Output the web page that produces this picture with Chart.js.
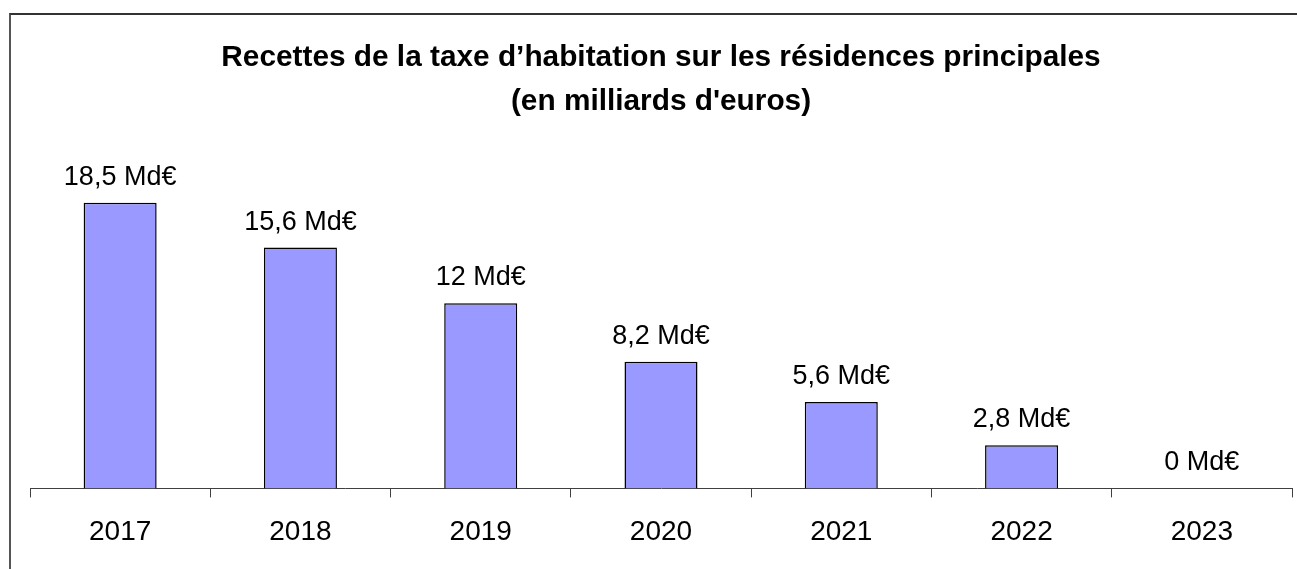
<!DOCTYPE html>
<html>
<head>
<meta charset="utf-8">
<script src="https://cdn.jsdelivr.net/npm/chart.js@4/dist/chart.umd.min.js"></script>
<style>
  html, body { margin: 0; padding: 0; background: #fff; overflow: hidden; }
  #frame { position: absolute; left: 9px; top: 13px; width: 1400px; height: 700px;
           border-top: 2px solid #333; border-left: 2px solid #555; box-sizing: border-box; }
  #wrap { position: absolute; left: 0; top: 0; width: 1297px; height: 569px; }
</style>
</head>
<body>
<div id="frame"></div>
<div id="wrap"><canvas id="c" width="1297" height="569"></canvas></div>
<script>
const categories = ["2017", "2018", "2019", "2020", "2021", "2022", "2023"];
const values = [18.5, 15.6, 12, 8.2, 5.6, 2.8, 0];
const valueLabels = ["18,5 Md€", "15,6 Md€", "12 Md€", "8,2 Md€", "5,6 Md€", "2,8 Md€", "0 Md€"];
const titleLines = ["Recettes de la taxe d\u2019habitation sur les résidences principales", "(en milliards d'euros)"];

const labelPlugin = {
  id: 'valueLabels',
  afterDatasetsDraw(chart) {
    const ctx = chart.ctx;
    const meta = chart.getDatasetMeta(0);
    ctx.save();
    ctx.font = '27px "Liberation Sans", Arial, sans-serif';
    ctx.fillStyle = '#000';
    ctx.textAlign = 'center';
    ctx.textBaseline = 'alphabetic';
    meta.data.forEach((bar, i) => {
      ctx.fillText(valueLabels[i], bar.x, bar.y - 18);
    });
    ctx.restore();
  }
};

new Chart(document.getElementById('c'), {
  type: 'bar',
  data: {
    labels: categories,
    datasets: [{
      data: values,
      backgroundColor: '#9999FF',
      borderColor: '#000',
      borderWidth: 1.5,
      categoryPercentage: 1,
      barPercentage: 0.405
    }]
  },
  options: {
    responsive: false,
    animation: false,
    layout: { padding: { left: 30, right: 5, top: 0, bottom: 2 } },
    plugins: {
      legend: { display: false },
      tooltip: { enabled: false },
      title: {
        display: true,
        text: titleLines,
        color: '#000',
        font: { family: '"Liberation Sans", Arial, sans-serif', size: 29.8, weight: 'bold', lineHeight: 1.47 },
        padding: { top: 36, bottom: 56 }
      }
    },
    scales: {
      y: { display: false, min: 0, max: 20 },
      x: {
        offset: true,
        border: { display: true, color: '#404040', width: 1 },
        grid: { offset: true, drawOnChartArea: false, drawTicks: true, tickLength: 9, color: '#404040', lineWidth: 1 },
        ticks: {
          color: '#000',
          font: { family: '"Liberation Sans", Arial, sans-serif', size: 28 },
          padding: 18,
          maxRotation: 0
        }
      }
    }
  },
  plugins: [labelPlugin]
});
</script>
</body>
</html>
